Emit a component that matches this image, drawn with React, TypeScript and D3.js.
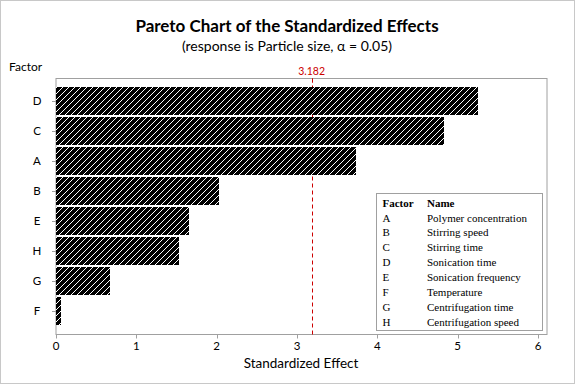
import * as d3 from 'd3'

// bars in pareto order (top to bottom)
const factors = ['D', 'C', 'A', 'B', 'E', 'H', 'G', 'F']
const effects = [5.25, 4.83, 3.73, 2.03, 1.66, 1.53, 0.67, 0.06]
const critical = 3.182
const xTicks = [0, 1, 2, 3, 4, 5, 6]

const legendCodes = ['A', 'B', 'C', 'D', 'E', 'F', 'G', 'H']
const legendNames = [
  'Polymer concentration',
  'Stirring speed',
  'Stirring time',
  'Sonication time',
  'Sonication frequency',
  'Temperature',
  'Centrifugation time',
  'Centrifugation speed',
]

const W = 575
const H = 384
const FRAME = { left: 56, right: 547, top: 78.5, bottom: 334.5 }
const SANS = 'Lato, "Noto Sans", sans-serif'
const SERIF = '"Liberation Serif", "Times New Roman", serif'
const P = 6 // hatch period in px

export default function App() {
  const x = d3.scaleLinear().domain([0, 6]).range([56, 538])
  const y = d3.scaleBand<string>().domain(factors).range([86, 326]).paddingInner(0.067).paddingOuter(0.033).round(true)

  const rows = factors.map((f, i) => ({ f, v: effects[i] }))
  const legendRow = (i: number) => 218 + i * 14.9

  return (
    <svg width={W} height={H} style={{ position: 'absolute', left: 0, top: 0, background: '#fff' }}>
      <defs>
        <pattern id="hatch" patternUnits="userSpaceOnUse" width={P} height={P}>
          <rect width={P} height={P} fill="#000" shapeRendering="crispEdges" />
          {d3.range(P).map(i => (
            <rect key={i} x={i} y={P - 1 - i} width={1} height={1} fill="#fff" shapeRendering="crispEdges" />
          ))}
        </pattern>
      </defs>
      <rect x={0.5} y={0.5} width={W - 1} height={H - 1} fill="#fff" stroke="#c8c8c8" />

      <text x={287} y={32} textAnchor="middle" fontFamily={SANS} fontWeight="bold" fontSize={17} fill="#000">
        Pareto Chart of the Standardized Effects
      </text>
      <text x={287} y={51} textAnchor="middle" fontFamily={SANS} fontSize={14} fill="#000">
        (response is Particle size, α = 0.05)
      </text>
      <text x={9} y={71} fontFamily={SANS} fontSize={12} fill="#000">Factor</text>

      {/* frame */}
      <rect x={FRAME.left} y={FRAME.top} width={FRAME.right - FRAME.left} height={FRAME.bottom - FRAME.top}
        fill="none" stroke="#a0a0a0" />

      {/* reference line */}
      <line x1={Math.round(x(critical)) + 0.5} x2={Math.round(x(critical)) + 0.5} y1={FRAME.top} y2={FRAME.bottom}
        stroke="#cc0000" strokeDasharray="4,3" />
      <line x1={Math.round(x(critical)) + 0.5} x2={Math.round(x(critical)) + 0.5} y1={FRAME.top} y2={FRAME.top + 4} stroke="#cc0000" />
      <text x={x(critical)} y={75} textAnchor="middle" fontFamily={SANS} fontSize={10.5} fill="#cc0000">
        {critical}
      </text>

      {rows.map(d => (
        <rect key={d.f} x={x(0)} y={y(d.f)} width={Math.round(x(d.v) - x(0))} height={y.bandwidth()}
          fill="url(#hatch)" shapeRendering="crispEdges" />
      ))}

      {/* y axis labels */}
      {rows.map(d => (
        <g key={'yl' + d.f}>
          <line x1={FRAME.left - 4} x2={FRAME.left} y1={y(d.f)! + y.bandwidth() / 2 + 0.5} y2={y(d.f)! + y.bandwidth() / 2 + 0.5}
            stroke="#a0a0a0" />
          <text x={37} y={y(d.f)! + y.bandwidth() / 2 + 4} textAnchor="middle" fontFamily={SANS} fontSize={11.5} fill="#000">
            {d.f}
          </text>
        </g>
      ))}

      {/* x axis */}
      {xTicks.map(t => (
        <g key={'xt' + t}>
          <line x1={Math.round(x(t)) + 0.5} x2={Math.round(x(t)) + 0.5} y1={FRAME.bottom} y2={FRAME.bottom + 4} stroke="#a0a0a0" />
          <text x={x(t)} y={350} textAnchor="middle" fontFamily={SANS} fontSize={11.5} fill="#000">{t}</text>
        </g>
      ))}
      <text x={301} y={368} textAnchor="middle" fontFamily={SANS} fontSize={13.5} fill="#000">Standardized Effect</text>

      {/* legend */}
      <rect x={376.5} y={193.5} width={166} height={137} fill="#fff" stroke="#a0a0a0" />
      <text x={382.5} y={207} fontFamily={SERIF} fontWeight="bold" fontSize={11} fill="#000">Factor</text>
      <text x={427} y={207} fontFamily={SERIF} fontWeight="bold" fontSize={11} fill="#000">Name</text>
      {legendCodes.map((c, i) => (
        <g key={'lg' + c}>
          <text x={382.5} y={legendRow(i) + 3.5} fontFamily={SERIF} fontSize={11} fill="#000">{c}</text>
          <text x={427} y={legendRow(i) + 3.5} fontFamily={SERIF} fontSize={11} fill="#000">{legendNames[i]}</text>
        </g>
      ))}
    </svg>
  )
}
